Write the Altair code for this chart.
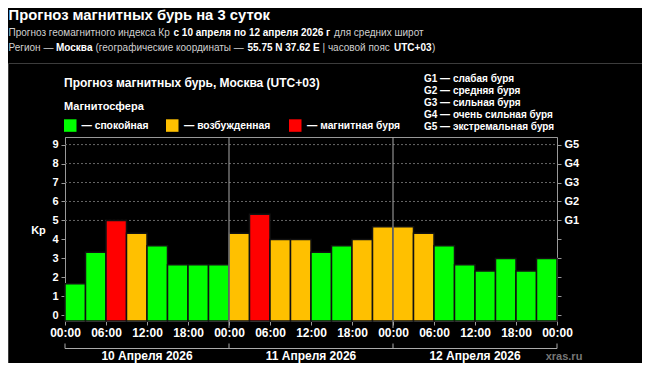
import json
import altair as alt
import pandas as pd

# ---------------- data ----------------
KP = [1.67, 3.33, 5.00, 4.33, 3.67, 2.67, 2.67, 2.67,
      4.33, 5.33, 4.00, 4.00, 3.33, 3.67, 4.00, 4.67,
      4.67, 4.33, 3.67, 2.67, 2.33, 3.00, 2.33, 3.00]
DAYS = ["10 Апреля 2026", "11 Апреля 2026", "12 Апреля 2026"]
TIME_LABELS = ["00:00", "06:00", "12:00", "18:00"]
LEVELS = ["calm", "active", "storm"]
LEVEL_LABELS = ["— спокойная", "— возбужденная", "— магнитная буря"]
LEVEL_COLORS = ["#00ff00", "#ffc000", "#ff0000"]
G_LABELS = ["G1 — слабая буря", "G2 — средняя буря", "G3 — сильная буря",
            "G4 — очень сильная буря", "G5 — экстремальная буря"]
KP_TICKS = list(range(10))
STORM_KP = [5, 6, 7, 8, 9]

FONT = "Liberation Sans"
W, H = 492, 184
LEFT, TOP = 65, 137  # page position of the plot area
CW, CH = 634, 355    # canvas size (page minus 8px margins)


def PX(x):
    return x - LEFT


def PY(y):
    return y - TOP


def level(k):
    return "calm" if k < 4 else ("active" if k < 5 else "storm")


bars = pd.DataFrame({"i": list(range(len(KP))), "kp": KP})
bars["i2"] = bars["i"] + 1
bars["level"] = [level(k) for k in KP]

XS = alt.Scale(domain=[0, len(KP)], nice=False, zero=False)
YS = alt.Scale(domain=[-0.3, 9.4], nice=False, zero=False)

x_axis = alt.Axis(
    values=list(range(len(KP) + 1)),
    labelExpr="datum.value % 2 == 0 ? " + json.dumps(TIME_LABELS) + "[(datum.value / 2) % 4] : ''",
    labelFont=FONT, labelFontSize=12, labelFontWeight="bold", labelColor="white",
    labelPadding=2, labelFlush=False, labelOverlap=False, labelBound=False,
    tickSize=4, tickColor="#999", domainColor="#999", grid=False, title=None,
)
y_left = alt.Axis(
    values=KP_TICKS, format="d", orient="left",
    labelFont=FONT, labelFontSize=11, labelFontWeight="bold", labelColor="white",
    labelPadding=3, tickSize=4, tickColor="#999", domainColor="#999", grid=False, title=None,
)
y_right = alt.Axis(
    values=KP_TICKS, orient="right",
    labelExpr="datum.value >= 5 ? 'G' + (datum.value - 4) : ''",
    labelFont=FONT, labelFontSize=11, labelFontWeight="bold", labelColor="white",
    labelPadding=3, tickSize=4, tickColor="#999", domainColor="#999", grid=False, title=None,
)

grid = alt.Chart(pd.DataFrame({"g": STORM_KP})).mark_rule(
    color="#666", strokeDash=[2, 2], strokeWidth=1
).encode(y=alt.Y("g:Q", scale=YS, axis=None), x=alt.value(0), x2=alt.value(W))

bar_layer = alt.Chart(bars).mark_bar(stroke="#111", strokeWidth=1.5).encode(
    x=alt.X("i:Q", scale=XS, axis=x_axis),
    x2="i2:Q",
    y=alt.Y("kp:Q", scale=YS, axis=y_left),
    y2=alt.value(H),
    color=alt.Color("level:N", scale=alt.Scale(domain=LEVELS, range=LEVEL_COLORS), legend=None),
)

right_layer = alt.Chart(bars).mark_point(opacity=0).encode(
    x=alt.X("i:Q", scale=XS),
    y=alt.Y("kp:Q", scale=YS, axis=y_right),
)

day_bounds = pd.DataFrame({"b": [8 * k for k in range(len(DAYS) + 1)]})
separators = alt.Chart(day_bounds[1:-1]).mark_rule(color="#aaa", strokeWidth=1).encode(
    x=alt.X("b:Q", scale=XS), y=alt.value(0), y2=alt.value(H + 7)
)

BR_Y = 348.5
days = pd.DataFrame({"day": DAYS, "s": [8 * k for k in range(len(DAYS))]})
days["e"] = days["s"] + 8
days["c"] = days["s"] + 4
bracket = alt.Chart(days).mark_rule(color="#aaa").encode(
    x=alt.X("s:Q", scale=XS), x2="e:Q", y=alt.value(PY(BR_Y))
)
bracket_ticks = alt.Chart(day_bounds).mark_rule(color="#aaa").encode(
    x=alt.X("b:Q", scale=XS), y=alt.value(PY(BR_Y - 5)), y2=alt.value(PY(BR_Y))
)
day_text = alt.Chart(days).mark_text(
    font=FONT, fontSize=12, fontWeight="bold", color="white", baseline="alphabetic"
).encode(x=alt.X("c:Q", scale=XS), y=alt.value(PY(359.5)), text="day:N")


def txt(s, x, y, size=11, bold=False, color="white", align="left"):
    return alt.Chart(pd.DataFrame({"t": [s]})).mark_text(
        font=FONT, fontSize=size, fontWeight="bold" if bold else "normal",
        color=color, align=align, baseline="alphabetic",
    ).encode(text="t:N", x=alt.value(PX(x)), y=alt.value(PY(y)))


GRAY = "#d0d0d0"
SUB = 10
texts = [
    txt("Прогноз магнитных бурь на 3 суток", 8.5, 19.5, size=14.8, bold=True),
    txt("Прогноз геомагнитного индекса Кр", 8.5, 35.5, size=SUB, color=GRAY),
    txt("с 10 апреля по 12 апреля 2026 г", 173.5, 35.5, size=SUB, bold=True),
    txt("для средних широт", 334, 35.5, size=SUB, color=GRAY),
    txt("Регион —", 8.5, 51, size=SUB, color=GRAY),
    txt("Москва", 56, 51, size=SUB, bold=True),
    txt("(географические координаты —", 95.5, 51, size=SUB, color=GRAY),
    txt("55.75 N 37.62 E", 247.5, 51, size=SUB, bold=True),
    txt("| часовой пояс", 322.5, 51, size=SUB, color=GRAY),
    txt("UTC+03", 394, 51, size=SUB, bold=True),
    txt(")", 432, 51, size=SUB, color=GRAY),
    txt("Прогноз магнитных бурь, Москва (UTC+03)", 64, 87, size=12, bold=True),
    txt("Магнитосфера", 64, 109.5, size=11, bold=True),
    txt("Kp", 38.5, 234, size=11, bold=True, align="center"),
    txt("xras.ru", 564, 359.5, size=11, bold=True, color="#777", align="center"),
]
leg_x = [64, 166, 289]
leg_tx = [81.5, 184, 307]
for k in range(len(LEVELS)):
    texts.append(
        alt.Chart(pd.DataFrame({"t": [LEVEL_LABELS[k]]})).mark_rect(color=LEVEL_COLORS[k]).encode(
            x=alt.value(PX(leg_x[k])), x2=alt.value(PX(leg_x[k] + 12.5)),
            y=alt.value(PY(119.3)), y2=alt.value(PY(131.8)),
        )
    )
    texts.append(txt(LEVEL_LABELS[k], leg_tx[k], 128.5, size=10.3, bold=True))
for k, g in enumerate(G_LABELS):
    texts.append(txt(g, 424, 82.3 + 12 * k, size=10, bold=True))

frame_top = alt.Chart(pd.DataFrame({"t": [0]})).mark_rule(color="#3c3c3c").encode(
    x=alt.value(PX(8.5)), x2=alt.value(PX(8 + CW)), y=alt.value(PY(63.5))
)
frame_left = alt.Chart(pd.DataFrame({"t": [0]})).mark_rule(color="#3c3c3c").encode(
    x=alt.value(PX(8.5)), y=alt.value(PY(63.5)), y2=alt.value(PY(8 + CH))
)

chart = alt.layer(
    frame_top, frame_left, grid, bar_layer, right_layer, separators,
    bracket, bracket_ticks, day_text, *texts
).resolve_scale(y="independent").properties(
    width=W, height=H,
    autosize=alt.AutoSizeParams(type="none"),
    padding={"left": LEFT - 8, "top": TOP - 8,
             "right": CW - (LEFT - 8) - W, "bottom": CH - (TOP - 8) - H},
    background="black",
).configure_view(stroke="#999", strokeWidth=1)

chart.save("out.html", embed_options={"renderer": "svg", "actions": False})
